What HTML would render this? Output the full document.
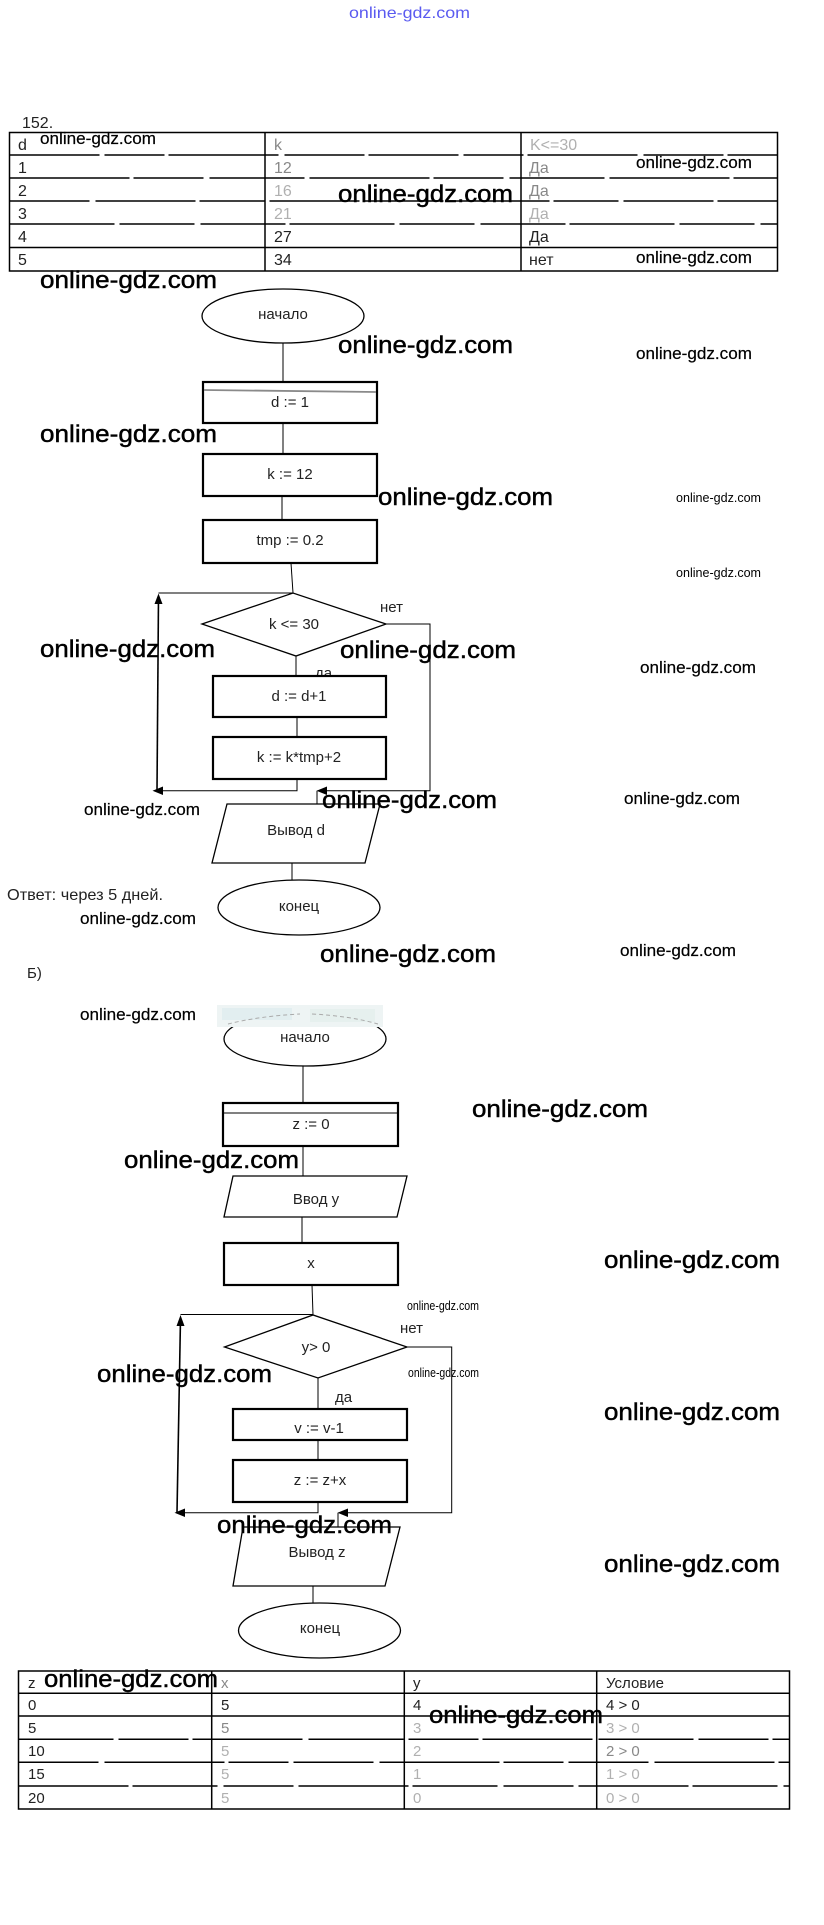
<!DOCTYPE html>
<html>
<head>
<meta charset="utf-8">
<style>
html,body{margin:0;padding:0;background:#fff;}
svg{display:block;}
text{font-family:"Liberation Sans","DejaVu Sans",sans-serif;}
.wb{font-size:24px;fill:#000;stroke:#000;stroke-width:0.45;}
.wm{font-size:17px;fill:#000;stroke:#000;stroke-width:0.2;}
.wt{font-size:12.5px;fill:#000;}
.lb{font-size:15px;fill:#222;text-anchor:middle;}
.tt{font-size:16px;fill:#222;}
.t2{font-size:15px;fill:#222;}
.fd{fill:#b0b0b0;}
.fd2{fill:#888;}
</style>
</head>
<body>
<svg width="824" height="1925" viewBox="0 0 824 1925" xmlns="http://www.w3.org/2000/svg">
<rect x="0" y="0" width="824" height="1925" fill="#fff"/>

<!-- top blue watermark -->
<text x="349" y="18" font-size="16" fill="#5a5af0" textLength="121" lengthAdjust="spacingAndGlyphs">online-gdz.com</text>

<!-- 152. -->
<text x="22" y="128" class="tt">152.</text>

<!-- Table 1 -->
<g stroke="#000" stroke-width="1.5" fill="none">
  <rect x="9.5" y="132.5" width="768" height="138.5"/>
  <line x1="265" y1="132.5" x2="265" y2="271"/>
  <line x1="521" y1="132.5" x2="521" y2="271"/>
  <line x1="9.5" y1="155" x2="777.5" y2="155" stroke-dasharray="90 5 60 4 110 6 80 4"/>
  <line x1="9.5" y1="178" x2="777.5" y2="178" stroke-dasharray="120 4 70 6 95 5"/>
  <line x1="9.5" y1="201" x2="777.5" y2="201" stroke-dasharray="80 6 100 4 65 5 90 4"/>
  <line x1="9.5" y1="224" x2="777.5" y2="224" stroke-dasharray="105 5 75 6 85 4"/>
  <line x1="9.5" y1="247.5" x2="777.5" y2="247.5"/>
</g>
<text x="18" y="150" class="tt">d</text>
<text x="274" y="150" class="tt fd2">k</text>
<text x="530" y="150" class="tt fd">K&lt;=30</text>
<text x="18" y="173" class="tt">1</text>
<text x="274" y="173" class="tt fd2">12</text>
<text x="529" y="173" class="tt fd2">Да</text>
<text x="18" y="196" class="tt">2</text>
<text x="274" y="196" class="tt fd">16</text>
<text x="529" y="196" class="tt fd2">Да</text>
<text x="18" y="219" class="tt">3</text>
<text x="274" y="219" class="tt fd">21</text>
<text x="529" y="219" class="tt fd">Да</text>
<text x="18" y="242" class="tt">4</text>
<text x="274" y="242" class="tt">27</text>
<text x="529" y="242" class="tt">Да</text>
<text x="18" y="265" class="tt">5</text>
<text x="274" y="265" class="tt">34</text>
<text x="529" y="265" class="tt">нет</text>

<!-- Flowchart 1 -->
<g stroke="#000" fill="none">
  <ellipse cx="283" cy="316" rx="81" ry="27" stroke-width="1.3"/>
  <line x1="283" y1="343" x2="283" y2="382" stroke-width="1"/>
  <rect x="203" y="382" width="174" height="41" stroke-width="2.2" fill="#fff"/>
  <line x1="204" y1="390" x2="376" y2="392" stroke="#8a8a8a" stroke-width="1.8"/>
  <line x1="283" y1="423" x2="283" y2="454" stroke-width="1"/>
  <rect x="203" y="454" width="174" height="42" stroke-width="2.2" fill="#fff"/>
  <line x1="282" y1="496" x2="282" y2="520" stroke-width="1"/>
  <rect x="203" y="520" width="174" height="43" stroke-width="2.2" fill="#fff"/>
  <line x1="291" y1="563" x2="293" y2="593" stroke-width="1"/>
  <line x1="293" y1="593" x2="158.5" y2="593" stroke-width="1"/>
  <line x1="157" y1="790.7" x2="158.5" y2="596" stroke-width="1.6"/>
  <polygon points="202,624 293,593 386,624 296,656" stroke-width="1.3" fill="#fff"/>
  <polyline points="386,624 430,624 430,790.7 322,790.7" stroke-width="1"/>
  <line x1="317" y1="790.7" x2="317" y2="804" stroke-width="1"/>
  <line x1="296" y1="656" x2="296" y2="676" stroke-width="1"/>
</g>
<text x="315" y="678" class="lb" style="text-anchor:start">да</text>
<g stroke="#000" fill="none">
  <rect x="213" y="676" width="173" height="41" stroke-width="2.2" fill="#fff"/>
  <line x1="297" y1="717" x2="297" y2="737" stroke-width="1"/>
  <rect x="213" y="737" width="173" height="42" stroke-width="2.2" fill="#fff"/>
  <polyline points="297,779 297,790.7 160,790.7" stroke-width="1"/>
  <polygon points="227,804 380,804 365,863 212,863" stroke-width="1.3" fill="#fff"/>
  <line x1="292" y1="863" x2="292" y2="880" stroke-width="1"/>
  <ellipse cx="299" cy="907.5" rx="81" ry="27.5" stroke-width="1.3"/>
</g>
<polygon points="158.5,593.5 154.5,604 162.5,604" fill="#000"/>
<polygon points="152.5,790.7 163,786.5 163,795" fill="#000"/>
<polygon points="316.5,790.7 327,786.5 327,795" fill="#000"/>

<text x="283" y="319" class="lb">начало</text>
<text x="290" y="407" class="lb">d := 1</text>
<text x="290" y="479" class="lb">k := 12</text>
<text x="290" y="545" class="lb">tmp := 0.2</text>
<text x="294" y="629" class="lb">k &lt;= 30</text>
<text x="380" y="612" class="lb" style="text-anchor:start">нет</text>
<text x="299" y="701" class="lb">d := d+1</text>
<text x="299" y="762" class="lb">k := k*tmp+2</text>
<text x="296" y="835" class="lb">Вывод d</text>
<text x="299" y="911" class="lb">конец</text>

<text x="7" y="900" font-size="16" fill="#222" textLength="156" lengthAdjust="spacingAndGlyphs">Ответ: через 5 дней.</text>
<text x="27" y="978" font-size="15" fill="#222">Б)</text>

<!-- Flowchart 2 -->
<g stroke="#000" fill="none">
  <ellipse cx="305" cy="1039" rx="81" ry="27" stroke-width="1.3"/>
</g>
<rect x="217" y="1005" width="166" height="22" fill="#eef4f4"/>
<rect x="222" y="1008" width="70" height="12" fill="#e2eef0"/>
<rect x="310" y="1009" width="65" height="13" fill="#e6f0ee"/>
<path d="M228 1024 Q260 1016 300 1014" stroke="#aaa" stroke-width="1" fill="none" stroke-dasharray="4 3"/>
<path d="M312 1014 Q350 1016 378 1024" stroke="#aaa" stroke-width="1" fill="none" stroke-dasharray="4 3"/>
<g stroke="#000" fill="none">
  <line x1="303" y1="1066" x2="303" y2="1103" stroke-width="1"/>
  <rect x="223" y="1103" width="175" height="43" stroke-width="2.2" fill="#fff"/>
  <line x1="224" y1="1113" x2="397" y2="1113" stroke-width="1"/>
  <line x1="303" y1="1146" x2="303" y2="1176" stroke-width="1"/>
  <polygon points="233,1176 407,1176 397,1217 224,1217" stroke-width="1.3" fill="#fff"/>
  <line x1="302" y1="1217" x2="302" y2="1243" stroke-width="1"/>
  <rect x="224" y="1243" width="174" height="42" stroke-width="2.2" fill="#fff"/>
  <line x1="312" y1="1285" x2="313" y2="1315" stroke-width="1"/>
  <line x1="313" y1="1314.5" x2="180.5" y2="1314.5" stroke-width="1"/>
  <line x1="177" y1="1512.7" x2="180.5" y2="1318" stroke-width="1.6"/>
  <polygon points="224.5,1347 313,1315 407,1347 318,1378" stroke-width="1.3" fill="#fff"/>
  <polyline points="407,1347 451.7,1347 451.7,1512.7 343,1512.7" stroke-width="1"/>
  <line x1="338" y1="1512.7" x2="338" y2="1527" stroke-width="1"/>
  <line x1="318" y1="1378" x2="318" y2="1409" stroke-width="1"/>
  <rect x="233" y="1409" width="174" height="31" stroke-width="2.2" fill="#fff"/>
  <line x1="318" y1="1440" x2="318" y2="1460" stroke-width="1"/>
  <rect x="233" y="1460" width="174" height="42" stroke-width="2.2" fill="#fff"/>
  <polyline points="318,1502 318,1512.7 182,1512.7" stroke-width="1"/>
  <polygon points="243,1527 400,1527 385,1586 233,1586" stroke-width="1.3" fill="#fff"/>
  <line x1="313" y1="1586" x2="313" y2="1603" stroke-width="1"/>
  <ellipse cx="319.5" cy="1630.5" rx="81" ry="27.5" stroke-width="1.3"/>
</g>
<polygon points="180.5,1315 176.5,1326 184.5,1326" fill="#000"/>
<polygon points="174.5,1512.7 185,1508.5 185,1517" fill="#000"/>
<polygon points="337.5,1512.7 348,1508.5 348,1517" fill="#000"/>

<text x="305" y="1042" class="lb">начало</text>
<text x="311" y="1129" class="lb">z := 0</text>
<text x="316" y="1204" class="lb">Ввод y</text>
<text x="311" y="1268" class="lb">x</text>
<text x="316" y="1352" class="lb">y&gt; 0</text>
<text x="400" y="1333" class="lb" style="text-anchor:start">нет</text>
<text x="335" y="1402" class="lb" style="text-anchor:start">да</text>
<text x="319" y="1433" class="lb">v := v-1</text>
<text x="320" y="1485" class="lb">z := z+x</text>
<text x="317" y="1557" class="lb">Вывод z</text>
<text x="320" y="1633" class="lb">конец</text>

<!-- Table 2 -->
<g stroke="#000" stroke-width="1.5" fill="none">
  <rect x="18.5" y="1671" width="771" height="138"/>
  <line x1="211.7" y1="1671" x2="211.7" y2="1809"/>
  <line x1="404.3" y1="1671" x2="404.3" y2="1809"/>
  <line x1="596.7" y1="1671" x2="596.7" y2="1809"/>
  <line x1="18.5" y1="1693.3" x2="789.5" y2="1693.3"/>
  <line x1="18.5" y1="1716" x2="789.5" y2="1716"/>
  <line x1="18.5" y1="1739.3" x2="789.5" y2="1739.3" stroke-dasharray="95 5 70 4 110 6"/>
  <line x1="18.5" y1="1762.3" x2="789.5" y2="1762.3" stroke-dasharray="80 6 120 4 60 5"/>
  <line x1="18.5" y1="1786" x2="789.5" y2="1786" stroke-dasharray="110 4 85 6 70 5"/>
</g>
<text x="28" y="1688" class="t2">z</text>
<text x="221" y="1688" class="t2 fd2">x</text>
<text x="413" y="1688" class="t2">y</text>
<text x="606" y="1688" class="t2">Условие</text>
<text x="28" y="1710" class="t2">0</text>
<text x="221" y="1710" class="t2">5</text>
<text x="413" y="1710" class="t2">4</text>
<text x="606" y="1710" class="t2">4 &gt; 0</text>
<text x="28" y="1733" class="t2">5</text>
<text x="221" y="1733" class="t2 fd2">5</text>
<text x="413" y="1733" class="t2 fd">3</text>
<text x="606" y="1733" class="t2 fd">3 &gt; 0</text>
<text x="28" y="1756" class="t2">10</text>
<text x="221" y="1756" class="t2 fd">5</text>
<text x="413" y="1756" class="t2 fd">2</text>
<text x="606" y="1756" class="t2 fd2">2 &gt; 0</text>
<text x="28" y="1779" class="t2">15</text>
<text x="221" y="1779" class="t2 fd">5</text>
<text x="413" y="1779" class="t2 fd">1</text>
<text x="606" y="1779" class="t2 fd">1 &gt; 0</text>
<text x="28" y="1803" class="t2">20</text>
<text x="221" y="1803" class="t2 fd">5</text>
<text x="413" y="1803" class="t2 fd">0</text>
<text x="606" y="1803" class="t2 fd">0 &gt; 0</text>

<!-- Big watermarks -->
<text x="338" y="202" class="wb" textLength="175" lengthAdjust="spacingAndGlyphs">online-gdz.com</text>
<text x="40" y="288" class="wb" textLength="177" lengthAdjust="spacingAndGlyphs">online-gdz.com</text>
<text x="338" y="353" class="wb" textLength="175" lengthAdjust="spacingAndGlyphs">online-gdz.com</text>
<text x="40" y="442" class="wb" textLength="177" lengthAdjust="spacingAndGlyphs">online-gdz.com</text>
<text x="378" y="505" class="wb" textLength="175" lengthAdjust="spacingAndGlyphs">online-gdz.com</text>
<text x="40" y="657" class="wb" textLength="175" lengthAdjust="spacingAndGlyphs">online-gdz.com</text>
<text x="340" y="658" class="wb" textLength="176" lengthAdjust="spacingAndGlyphs">online-gdz.com</text>
<text x="322" y="808" class="wb" textLength="175" lengthAdjust="spacingAndGlyphs">online-gdz.com</text>
<text x="320" y="962" class="wb" textLength="176" lengthAdjust="spacingAndGlyphs">online-gdz.com</text>
<text x="472" y="1117" class="wb" textLength="176" lengthAdjust="spacingAndGlyphs">online-gdz.com</text>
<text x="124" y="1168" class="wb" textLength="175" lengthAdjust="spacingAndGlyphs">online-gdz.com</text>
<text x="604" y="1268" class="wb" textLength="176" lengthAdjust="spacingAndGlyphs">online-gdz.com</text>
<text x="97" y="1382" class="wb" textLength="175" lengthAdjust="spacingAndGlyphs">online-gdz.com</text>
<text x="604" y="1420" class="wb" textLength="176" lengthAdjust="spacingAndGlyphs">online-gdz.com</text>
<text x="217" y="1533" class="wb" textLength="175" lengthAdjust="spacingAndGlyphs">online-gdz.com</text>
<text x="604" y="1572" class="wb" textLength="176" lengthAdjust="spacingAndGlyphs">online-gdz.com</text>
<text x="44" y="1687" class="wb" textLength="174" lengthAdjust="spacingAndGlyphs">online-gdz.com</text>
<text x="429" y="1723" class="wb" textLength="174" lengthAdjust="spacingAndGlyphs">online-gdz.com</text>

<!-- Medium watermarks -->
<text x="40" y="144" class="wm" textLength="116" lengthAdjust="spacingAndGlyphs">online-gdz.com</text>
<text x="636" y="168" class="wm" textLength="116" lengthAdjust="spacingAndGlyphs">online-gdz.com</text>
<text x="636" y="263" class="wm" textLength="116" lengthAdjust="spacingAndGlyphs">online-gdz.com</text>
<text x="636" y="359" class="wm" textLength="116" lengthAdjust="spacingAndGlyphs">online-gdz.com</text>
<text x="640" y="673" class="wm" textLength="116" lengthAdjust="spacingAndGlyphs">online-gdz.com</text>
<text x="624" y="804" class="wm" textLength="116" lengthAdjust="spacingAndGlyphs">online-gdz.com</text>
<text x="84" y="815" class="wm" textLength="116" lengthAdjust="spacingAndGlyphs">online-gdz.com</text>
<text x="620" y="956" class="wm" textLength="116" lengthAdjust="spacingAndGlyphs">online-gdz.com</text>
<text x="80" y="924" class="wm" textLength="116" lengthAdjust="spacingAndGlyphs">online-gdz.com</text>
<text x="80" y="1020" class="wm" textLength="116" lengthAdjust="spacingAndGlyphs">online-gdz.com</text>

<!-- Tiny watermarks -->
<text x="676" y="502" class="wt" textLength="85" lengthAdjust="spacingAndGlyphs">online-gdz.com</text>
<text x="676" y="577" class="wt" textLength="85" lengthAdjust="spacingAndGlyphs">online-gdz.com</text>
<text x="407" y="1310" class="wt" textLength="72" lengthAdjust="spacingAndGlyphs">online-gdz.com</text>
<text x="408" y="1377" class="wt" textLength="71" lengthAdjust="spacingAndGlyphs">online-gdz.com</text>
</svg>
</body>
</html>
